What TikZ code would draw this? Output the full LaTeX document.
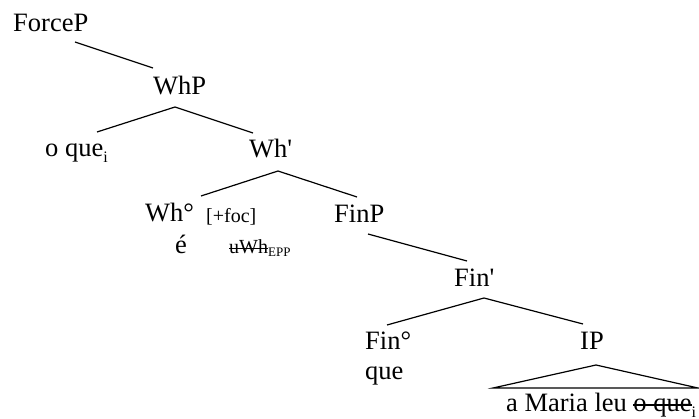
\documentclass[tikz,border=0pt]{standalone}
\usepackage{fontspec}
\setmainfont{Liberation Serif}
% struck-out text (deleted copies / checked features)
\newcommand\strk[1]{\setbox0=\hbox{#1}\rlap{\rule[0.24em]{\wd0}{1.2pt}}\box0}
% lowered small index
\newcommand\idx[1]{\raisebox{-0.2em}{\fontsize{16}{18}\selectfont #1}}
\begin{document}
\begin{tikzpicture}[x=1pt,y=-1pt,
  lbl/.style={anchor=base west, inner sep=0pt, font=\fontsize{26.5}{30}\selectfont},
  feat/.style={anchor=base west, inner sep=0pt, font=\fontsize{20}{24}\selectfont},
  branch/.style={line width=1.2pt}]
\useasboundingbox (0,0) rectangle (699,419);

% labels
\node[lbl] (force) at (13,32) {ForceP};
\node[lbl] (whp) at (153,95) {WhP};
\node[lbl] (oque) at (45,157) {o que\idx{i}};
\node[lbl] (whbar) at (249,158) {Wh\textquotesingle};
\node[lbl] (wh0) at (145,222) {Wh°};
\node[feat] (foc) at (206,223) {[+foc]};
\node[lbl] (e) at (175,254) {é};
\node[feat] (uwh) at (229,254) {\strk{uWh}\raisebox{-0.15em}{\fontsize{13}{15}\selectfont EPP}};
\node[lbl] (finp) at (334,223) {FinP};
\node[lbl] (finbar) at (454,287) {Fin\textquotesingle};
\node[lbl] (fin0) at (365,350) {Fin°};
\node[lbl] (que) at (365,380) {que};
\node[lbl] (ip) at (580,350) {IP};
\node[lbl] (sent) at (506,412) {a Maria leu \strk{o que}\idx{i}};

% branch end points
\coordinate (force-b) at (75,42);
\coordinate (whp-t) at (153,68);
\coordinate (whp-b) at (175,107);
\coordinate (oque-t) at (97,132);
\coordinate (whbar-t) at (253,133);
\coordinate (whbar-b) at (278,171);
\coordinate (wh0-t) at (201,196);
\coordinate (finp-t) at (357,197);
\coordinate (finp-b) at (368,234);
\coordinate (finbar-t) at (467,261);
\coordinate (finbar-b) at (484,298);
\coordinate (fin0-t) at (387,325);
\coordinate (ip-t) at (583,324);
\coordinate (ip-b) at (596,365);
\coordinate (tri-l) at (493,388);
\coordinate (tri-r) at (698,388);

% branches
\draw[branch] (force-b) -- (whp-t);
\draw[branch] (oque-t) -- (whp-b) -- (whbar-t);
\draw[branch] (wh0-t) -- (whbar-b) -- (finp-t);
\draw[branch] (finp-b) -- (finbar-t);
\draw[branch] (fin0-t) -- (finbar-b) -- (ip-t);
\draw[branch, line join=miter] (ip-b) -- (tri-l) -- (tri-r) -- cycle;
\end{tikzpicture}
\end{document}
